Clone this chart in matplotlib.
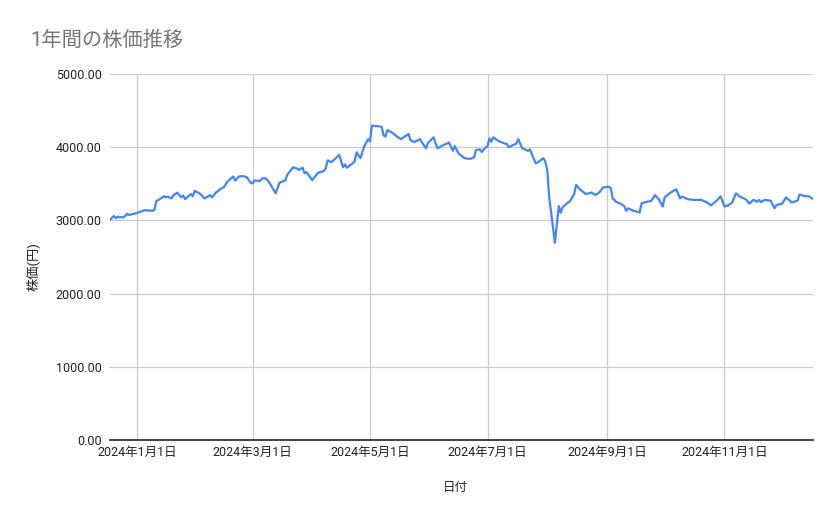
import matplotlib
matplotlib.use("Agg")
import matplotlib.pyplot as plt
import matplotlib.dates as mdates
import pandas as pd

plt.rcParams['font.family'] = ['Roboto', 'Noto Sans CJK JP', 'DejaVu Sans']

title = "1年間の株価推移"
x_label = "日付"
y_label = "株価(円)"

dates = [
    "2023-12-18", "2023-12-20", "2023-12-21", "2023-12-22", "2023-12-25", "2023-12-27", "2023-12-28",
    "2024-01-01", "2024-01-05", "2024-01-09", "2024-01-10", "2024-01-11", "2024-01-15", "2024-01-16",
    "2024-01-17", "2024-01-19", "2024-01-20", "2024-01-22", "2024-01-23", "2024-01-24", "2024-01-25",
    "2024-01-26", "2024-01-29", "2024-01-30", "2024-01-31", "2024-02-03", "2024-02-05", "2024-02-08",
    "2024-02-09", "2024-02-11", "2024-02-14", "2024-02-15", "2024-02-17", "2024-02-20", "2024-02-21",
    "2024-02-23", "2024-02-25", "2024-02-27", "2024-02-29", "2024-03-01", "2024-03-02", "2024-03-05",
    "2024-03-06", "2024-03-08", "2024-03-10", "2024-03-12", "2024-03-13", "2024-03-15", "2024-03-18",
    "2024-03-19", "2024-03-22", "2024-03-24", "2024-03-25", "2024-03-27", "2024-03-28", "2024-03-29",
    "2024-04-01", "2024-04-04", "2024-04-07", "2024-04-08", "2024-04-09", "2024-04-11", "2024-04-15",
    "2024-04-17", "2024-04-18", "2024-04-19", "2024-04-22", "2024-04-23", "2024-04-24", "2024-04-26",
    "2024-04-28", "2024-04-30", "2024-05-01", "2024-05-02", "2024-05-07", "2024-05-08", "2024-05-09",
    "2024-05-10", "2024-05-13", "2024-05-15", "2024-05-17", "2024-05-21", "2024-05-22", "2024-05-24",
    "2024-05-27", "2024-05-28", "2024-05-30", "2024-05-31", "2024-06-03", "2024-06-05", "2024-06-07",
    "2024-06-11", "2024-06-13", "2024-06-14", "2024-06-16", "2024-06-19", "2024-06-22", "2024-06-24",
    "2024-06-25", "2024-06-27", "2024-06-28", "2024-06-29", "2024-07-01", "2024-07-02", "2024-07-03",
    "2024-07-04", "2024-07-07", "2024-07-10", "2024-07-11", "2024-07-12", "2024-07-16", "2024-07-17",
    "2024-07-19", "2024-07-22", "2024-07-23", "2024-07-26", "2024-07-27", "2024-07-30", "2024-07-31",
    "2024-08-01", "2024-08-02", "2024-08-05", "2024-08-07", "2024-08-08", "2024-08-09", "2024-08-13",
    "2024-08-15", "2024-08-16", "2024-08-18", "2024-08-21", "2024-08-24", "2024-08-26", "2024-08-28",
    "2024-08-30", "2024-09-02", "2024-09-03", "2024-09-04", "2024-09-06", "2024-09-08", "2024-09-10",
    "2024-09-11", "2024-09-12", "2024-09-15", "2024-09-18", "2024-09-19", "2024-09-21", "2024-09-24",
    "2024-09-26", "2024-09-28", "2024-09-30", "2024-10-01", "2024-10-04", "2024-10-07", "2024-10-09",
    "2024-10-10", "2024-10-13", "2024-10-16", "2024-10-20", "2024-10-23", "2024-10-25", "2024-10-28",
    "2024-10-30", "2024-11-01", "2024-11-03", "2024-11-05", "2024-11-07", "2024-11-09", "2024-11-12",
    "2024-11-14", "2024-11-16", "2024-11-18", "2024-11-19", "2024-11-20", "2024-11-22", "2024-11-25",
    "2024-11-27", "2024-11-28", "2024-12-01", "2024-12-03", "2024-12-06", "2024-12-09", "2024-12-10",
    "2024-12-13", "2024-12-15", "2024-12-17",
]

prices = [
    3010, 3060, 3030, 3050, 3040, 3090, 3075,
    3100, 3140, 3130, 3140, 3260, 3330, 3315,
    3325, 3300, 3345, 3380, 3345, 3315, 3340,
    3290, 3360, 3330, 3405, 3360, 3300, 3345,
    3315, 3380, 3440, 3450, 3530, 3600, 3545,
    3600, 3605, 3590, 3515, 3505, 3545, 3540,
    3575, 3575, 3505, 3415, 3370, 3515, 3545,
    3620, 3725, 3710, 3690, 3720, 3645, 3660,
    3550, 3650, 3675, 3710, 3820, 3795, 3895,
    3725, 3765, 3720, 3780, 3805, 3930, 3850,
    4010, 4110, 4080, 4295, 4280, 4165, 4145,
    4235, 4190, 4145, 4110, 4180, 4095, 4070,
    4110, 4065, 3985, 4055, 4135, 3985, 4015,
    4065, 3950, 4015, 3915, 3850, 3840, 3860,
    3960, 3970, 3935, 3970, 4015, 4120, 4075,
    4135, 4080, 4050, 4045, 4000, 4050, 4110,
    3985, 3950, 3970, 3780, 3790, 3850, 3805,
    3690, 3325, 2695, 3195, 3105, 3180, 3270,
    3360, 3485, 3425, 3360, 3380, 3345, 3380,
    3450, 3460, 3440, 3300, 3250, 3230, 3195,
    3130, 3165, 3130, 3110, 3230, 3250, 3265,
    3345, 3285, 3190, 3315, 3380, 3425, 3300,
    3325, 3290, 3280, 3280, 3245, 3205, 3270,
    3330, 3190, 3205, 3245, 3370, 3325, 3290,
    3230, 3280, 3255, 3280, 3250, 3280, 3270,
    3165, 3210, 3230, 3315, 3245, 3270, 3355,
    3330, 3330, 3290,
]

tick_dates = ["2024-01-01", "2024-03-01", "2024-05-01", "2024-07-01", "2024-09-01", "2024-11-01"]
tick_labels = ["2024年1月1日", "2024年3月1日", "2024年5月1日", "2024年7月1日", "2024年9月1日", "2024年11月1日"]
y_ticks = [0, 1000, 2000, 3000, 4000, 5000]

x = pd.to_datetime(dates)
xt = pd.to_datetime(tick_dates)

W, H = 839, 519
fig = plt.figure(figsize=(W / 100, H / 100), dpi=100)
ax = fig.add_axes([110 / W, 1 - 440 / H, (813 - 110) / W, (440 - 74) / H])

ax.plot(x, prices, color="#4285F4", linewidth=1.6, solid_joinstyle="round", zorder=3)

ax.set_xlim(x.min(), x.max())
ax.set_ylim(0, 5000)
ax.set_yticks(y_ticks)
ax.set_yticklabels([f"{v:.2f}" for v in y_ticks])
ax.set_xticks(xt)
ax.set_xticklabels(tick_labels)

ax.grid(True, color="#cccccc", linewidth=0.9, zorder=0)
for s in ["top", "right", "left"]:
    ax.spines[s].set_visible(False)
ax.spines["bottom"].set_color("#333333")
ax.spines["bottom"].set_linewidth(1.3)
ax.spines["bottom"].set_zorder(4)
ax.tick_params(axis="both", length=0, labelsize=9, colors="#222222")
ax.tick_params(axis="x", pad=4)
ax.tick_params(axis="y", pad=6)

fig.text(30 / W, 1 - 40 / H, title, fontsize=14.6, color="#757575", va="center", ha="left")
fig.text(455 / W, 1 - 487 / H, x_label, fontsize=9, color="#222222", ha="center", va="center")
fig.text(34 / W, 1 - 267 / H, y_label, fontsize=9.5, color="#222222", ha="center", va="center", rotation=90)

fig.savefig("out.png", dpi=100, facecolor="white")
